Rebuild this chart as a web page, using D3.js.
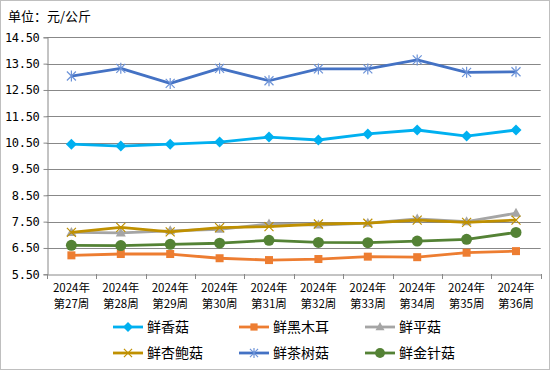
<!DOCTYPE html>
<html>
<head>
<meta charset="utf-8">
<script src="https://cdn.jsdelivr.net/npm/d3@7"></script>
<style>
  html, body { margin: 0; padding: 0; background: #fff; }
  svg { display: block; font-family: "Noto Sans CJK SC", "Noto Sans", sans-serif; }
</style>
</head>
<body>
<script>
// weeks and prices (元/公斤)
let years = ['2024年', '2024年', '2024年', '2024年', '2024年', '2024年', '2024年', '2024年', '2024年', '2024年']
let weeks = ['第27周', '第28周', '第29周', '第30周', '第31周', '第32周', '第33周', '第34周', '第35周', '第36周']
let yticks = [5.5, 6.5, 7.5, 8.5, 9.5, 10.5, 11.5, 12.5, 13.5, 14.5]

let xianggu   = [10.44, 10.37, 10.44, 10.52, 10.71, 10.60, 10.83, 10.98, 10.75, 10.98]
let heimuer   = [6.22, 6.27, 6.27, 6.11, 6.04, 6.08, 6.17, 6.15, 6.32, 6.38]
let pinggu    = [7.09, 7.07, 7.15, 7.21, 7.41, 7.37, 7.44, 7.60, 7.50, 7.82]
let xingbaogu = [7.09, 7.28, 7.11, 7.27, 7.31, 7.41, 7.44, 7.56, 7.47, 7.56]
let chashugu  = [13.03, 13.32, 12.75, 13.32, 12.85, 13.30, 13.30, 13.64, 13.17, 13.19]
let jinzhengu = [6.60, 6.59, 6.64, 6.68, 6.79, 6.71, 6.70, 6.76, 6.83, 7.09]

let series = [
  { name: '鲜香菇', values: xianggu, color: '#00b0f0', marker: 'diamond' },
  { name: '鲜黑木耳', values: heimuer, color: '#ed7d31', marker: 'square' },
  { name: '鲜平菇', values: pinggu, color: '#a5a5a5', marker: 'triangle' },
  { name: '鲜杏鲍菇', values: xingbaogu, color: '#bf9000', marker: 'x' },
  { name: '鲜茶树菇', values: chashugu, color: '#4472c4', marker: 'star' },
  { name: '鲜金针菇', values: jinzhengu, color: '#548235', marker: 'circle' },
]

let width = 550, height = 370
let margin = { top: 37.3, right: 9.3, bottom: 95.7, left: 46.7 }

const svg = d3.select('body').append('svg')
    .attr('width', width)
    .attr('height', height)

svg.append('rect')
    .attr('x', 0.5).attr('y', 0.5)
    .attr('width', width - 1).attr('height', height - 1)
    .attr('fill', '#fff')
    .attr('stroke', '#bfbfbf')

svg.append('text')
    .attr('x', 8).attr('y', 21)
    .style('font-size', '13px')
    .attr('fill', '#000')
    .text('单位：元/公斤')

let x = d3.scaleBand()
    .domain(weeks)
    .range([margin.left, width - margin.right])

let y = d3.scaleLinear()
    .domain([5.5, 14.5])
    .range([height - margin.bottom, margin.top])

// gridlines
svg.append('g')
  .selectAll('line')
  .data(yticks.slice(1))
  .join('line')
    .attr('x1', margin.left)
    .attr('x2', width - margin.right)
    .attr('y1', d => Math.round(y(d)) + 0.5)
    .attr('y2', d => Math.round(y(d)) + 0.5)
    .attr('stroke', '#888')

let yAxis = g => g
    .attr('transform', `translate(${Math.round(margin.left) + 0.5},0)`)
    .call(d3.axisLeft(y).tickValues(yticks).tickFormat(d3.format('.2f')).tickSize(4).tickPadding(4))
    .call(g => g.selectAll('.domain').attr('stroke', '#888'))
    .call(g => g.selectAll('.tick line').attr('stroke', '#888'))
    .call(g => g.selectAll('.tick text')
        .style('font-size', '12px')
        .style('font-family', '"DejaVu Sans Mono", monospace')
        .style('letter-spacing', '-0.3px')
        .attr('fill', '#000'))

let xAxis = g => g
    .attr('transform', `translate(0,${Math.round(y(5.5)) + 0.5})`)
    .call(d3.axisBottom(x).tickSize(0).tickFormat(''))
    .call(g => g.selectAll('.domain').attr('stroke', '#888'))

svg.append('g').call(yAxis)
svg.append('g').call(xAxis)

// x tick marks at band edges
let edges = weeks.map(w => x(w)).concat([x(weeks[weeks.length - 1]) + x.bandwidth()])
svg.append('g')
  .selectAll('line')
  .data(edges)
  .join('line')
    .attr('x1', d => Math.round(d) + 0.5)
    .attr('x2', d => Math.round(d) + 0.5)
    .attr('y1', Math.round(y(5.5)))
    .attr('y2', Math.round(y(5.5)) + 5)
    .attr('stroke', '#888')

// x labels, two lines
svg.append('g')
  .selectAll('text')
  .data(weeks)
  .join('text')
    .attr('x', d => x(d) + x.bandwidth() / 2)
    .attr('y', 292)
    .attr('text-anchor', 'middle')
    .style('font-size', '11.5px')
    .attr('fill', '#000')
    .text((d, i) => years[i])

svg.append('g')
  .selectAll('text')
  .data(weeks)
  .join('text')
    .attr('x', d => x(d) + x.bandwidth() / 2)
    .attr('y', 308)
    .attr('text-anchor', 'middle')
    .style('font-size', '11.5px')
    .attr('fill', '#000')
    .text(d => d)

function marker(g, type, color, cx, cy, small) {
  let s = small ? 0.9 : 1
  if (type === 'diamond') {
    g.append('path')
      .attr('d', `M${cx},${cy - 5.5 * s}L${cx + 5.5 * s},${cy}L${cx},${cy + 5.5 * s}L${cx - 5.5 * s},${cy}Z`)
      .attr('fill', color)
  } else if (type === 'square') {
    g.append('rect')
      .attr('x', cx - 4 * s).attr('y', cy - 4 * s)
      .attr('width', 8 * s).attr('height', 8 * s)
      .attr('fill', color)
  } else if (type === 'triangle') {
    g.append('path')
      .attr('d', `M${cx},${cy - 5.5 * s}L${cx + 5 * s},${cy + 3.5 * s}L${cx - 5 * s},${cy + 3.5 * s}Z`)
      .attr('fill', color)
  } else if (type === 'x') {
    g.append('path')
      .attr('d', `M${cx - 4.5 * s},${cy - 4.5 * s}L${cx + 4.5 * s},${cy + 4.5 * s}M${cx + 4.5 * s},${cy - 4.5 * s}L${cx - 4.5 * s},${cy + 4.5 * s}`)
      .attr('stroke', color).attr('stroke-width', 1.2)
  } else if (type === 'star') {
    g.append('path')
      .attr('d', `M${cx - 4.5 * s},${cy - 4.5 * s}L${cx + 4.5 * s},${cy + 4.5 * s}M${cx + 4.5 * s},${cy - 4.5 * s}L${cx - 4.5 * s},${cy + 4.5 * s}M${cx},${cy - 5.5 * s}L${cx},${cy + 5.5 * s}`)
      .attr('stroke', '#6d93d8').attr('stroke-width', 1.2)
  } else if (type === 'circle') {
    g.append('circle')
      .attr('cx', cx).attr('cy', cy).attr('r', 5.5 * s)
      .attr('fill', color)
  }
}

let line = d3.line()
    .x((d, i) => x(weeks[i]) + x.bandwidth() / 2)
    .y(d => y(d))

let plot = svg.append('g')
for (let s of series) {
  let g = plot.append('g')
  g.append('path')
    .attr('d', line(s.values))
    .attr('fill', 'none')
    .attr('stroke', s.color)
    .attr('stroke-width', 2.8)
    .attr('stroke-linejoin', 'round')
  s.values.forEach((v, i) => marker(g, s.marker, s.color, x(weeks[i]) + x.bandwidth() / 2, y(v)))
}

// legend, 3 columns x 2 rows
let legX = [113, 239, 365], legY = [327, 353]
series.forEach((s, i) => {
  let lx = legX[i % 3], ly = legY[Math.floor(i / 3)]
  let g = svg.append('g')
  g.append('line')
    .attr('x1', lx).attr('x2', lx + 30)
    .attr('y1', ly).attr('y2', ly)
    .attr('stroke', s.color).attr('stroke-width', 2.8)
  marker(g, s.marker, s.color, lx + 15, ly, true)
  g.append('text')
    .attr('x', lx + 34).attr('y', ly + 5)
    .style('font-size', '14px')
    .attr('fill', '#000')
    .text(s.name)
})
</script>
</body>
</html>
